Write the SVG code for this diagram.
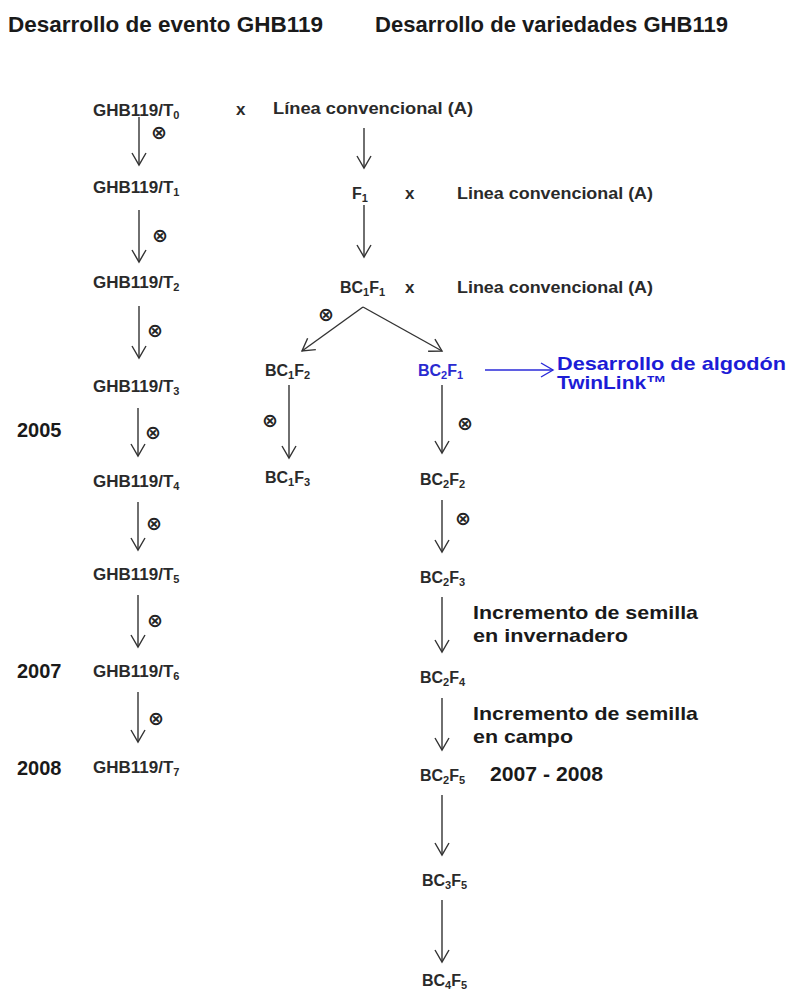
<svg xmlns="http://www.w3.org/2000/svg" width="787" height="993" viewBox="0 0 787 993">
<style>
text{font-family:"Liberation Sans",Arial,sans-serif;font-weight:bold;fill:#1a1a1a}
.h{font-size:22px}
.n{font-size:17px;fill:#2a2a2a}
.b{font-size:16px;fill:#2a2a2a}
.s{font-size:11px}
.t{font-size:19px}
.y{font-size:20px}
.blue{fill:#1c1cd6}
.nb{fill:#2a2ad0}
.sym{font-family:"DejaVu Sans",sans-serif;font-size:19px;font-weight:bold;text-anchor:middle;dominant-baseline:central;fill:#222}
.c{stroke:#333;stroke-width:1.4;fill:none;marker-end:url(#ah)}
.cb{stroke:#2a2ad8;stroke-width:1.4;fill:none;marker-end:url(#ahb)}
</style>
<defs>
<marker id="ah" markerWidth="16" markerHeight="16" refX="13" refY="8" orient="auto" markerUnits="userSpaceOnUse"><path d="M1,1 L13,8 L1,15" fill="none" stroke="#333" stroke-width="1.4"/></marker>
<marker id="ahb" markerWidth="16" markerHeight="16" refX="13" refY="8" orient="auto" markerUnits="userSpaceOnUse"><path d="M1,1 L13,8 L1,15" fill="none" stroke="#2a2ad8" stroke-width="1.4"/></marker>
</defs>
<rect width="787" height="993" fill="#fff"/>

<g id="headers">
<text class="h" x="8" y="32" textLength="315" lengthAdjust="spacingAndGlyphs">Desarrollo de evento GHB119</text>
<text class="h" x="375" y="32" textLength="353" lengthAdjust="spacingAndGlyphs">Desarrollo de variedades GHB119</text>
</g>

<g id="years">
<text class="y" x="17" y="437">2005</text>
<text class="y" x="17" y="678">2007</text>
<text class="y" x="17" y="775">2008</text>
</g>

<g id="T0"><text class="n" x="93" y="116">GHB119/T<tspan class="s" dy="3">0</tspan></text></g>
<g id="T1"><text class="n" x="93" y="193">GHB119/T<tspan class="s" dy="3">1</tspan></text></g>
<g id="T2"><text class="n" x="93" y="288">GHB119/T<tspan class="s" dy="3">2</tspan></text></g>
<g id="T3"><text class="n" x="93" y="392">GHB119/T<tspan class="s" dy="3">3</tspan></text></g>
<g id="T4"><text class="n" x="93" y="487">GHB119/T<tspan class="s" dy="3">4</tspan></text></g>
<g id="T5"><text class="n" x="93" y="580">GHB119/T<tspan class="s" dy="3">5</tspan></text></g>
<g id="T6"><text class="n" x="93" y="677">GHB119/T<tspan class="s" dy="3">6</tspan></text></g>
<g id="T7"><text class="n" x="93" y="773">GHB119/T<tspan class="s" dy="3">7</tspan></text></g>

<g id="cross1">
<text class="n" x="236" y="115">x</text>
<text class="n" x="273" y="114" textLength="200" lengthAdjust="spacingAndGlyphs">Línea convencional (A)</text>
</g>
<g id="F1"><text class="b" x="352" y="199">F<tspan class="s" dy="3">1</tspan></text></g>
<g id="cross2">
<text class="n" x="405" y="199">x</text>
<text class="n" x="457" y="199" textLength="196" lengthAdjust="spacingAndGlyphs">Linea convencional (A)</text>
</g>
<g id="BC1F1"><text class="b" x="340" y="293">BC<tspan class="s" dy="3">1</tspan><tspan dy="-3">F</tspan><tspan class="s" dy="3">1</tspan></text></g>
<g id="cross3">
<text class="n" x="405" y="293">x</text>
<text class="n" x="457" y="293" textLength="196" lengthAdjust="spacingAndGlyphs">Linea convencional (A)</text>
</g>

<g id="BC1F2"><text class="b" x="265" y="376">BC<tspan class="s" dy="3">1</tspan><tspan dy="-3">F</tspan><tspan class="s" dy="3">2</tspan></text></g>
<g id="BC1F3"><text class="b" x="265" y="483">BC<tspan class="s" dy="3">1</tspan><tspan dy="-3">F</tspan><tspan class="s" dy="3">3</tspan></text></g>
<g id="BC2F1"><text class="b nb" x="418" y="376">BC<tspan class="s" dy="3">2</tspan><tspan dy="-3">F</tspan><tspan class="s" dy="3">1</tspan></text></g>
<g id="BC2F2"><text class="b" x="420" y="485">BC<tspan class="s" dy="3">2</tspan><tspan dy="-3">F</tspan><tspan class="s" dy="3">2</tspan></text></g>
<g id="BC2F3"><text class="b" x="420" y="583">BC<tspan class="s" dy="3">2</tspan><tspan dy="-3">F</tspan><tspan class="s" dy="3">3</tspan></text></g>
<g id="BC2F4"><text class="b" x="420" y="683">BC<tspan class="s" dy="3">2</tspan><tspan dy="-3">F</tspan><tspan class="s" dy="3">4</tspan></text></g>
<g id="BC2F5"><text class="b" x="420" y="781">BC<tspan class="s" dy="3">2</tspan><tspan dy="-3">F</tspan><tspan class="s" dy="3">5</tspan></text></g>
<g id="BC3F5"><text class="b" x="422" y="886">BC<tspan class="s" dy="3">3</tspan><tspan dy="-3">F</tspan><tspan class="s" dy="3">5</tspan></text></g>
<g id="BC4F5"><text class="b" x="422" y="986">BC<tspan class="s" dy="3">4</tspan><tspan dy="-3">F</tspan><tspan class="s" dy="3">5</tspan></text></g>

<g id="twinlink">
<text class="t blue" x="557" y="370" textLength="229" lengthAdjust="spacingAndGlyphs">Desarrollo de algodón</text>
<text class="t blue" x="557" y="389" textLength="110" lengthAdjust="spacingAndGlyphs">TwinLink™</text>
</g>
<g id="notes">
<text class="t" x="473" y="619" textLength="225" lengthAdjust="spacingAndGlyphs">Incremento de semilla</text>
<text class="t" x="473" y="642" textLength="155" lengthAdjust="spacingAndGlyphs">en invernadero</text>
<text class="t" x="473" y="720" textLength="225" lengthAdjust="spacingAndGlyphs">Incremento de semilla</text>
<text class="t" x="473" y="743" textLength="100" lengthAdjust="spacingAndGlyphs">en campo</text>
<text class="y" x="490" y="781" textLength="113" lengthAdjust="spacingAndGlyphs">2007 - 2008</text>
</g>

<g id="connectors">
<line class="c" x1="139" y1="117" x2="139" y2="165"/>
<line class="c" x1="139" y1="210" x2="139" y2="262"/>
<line class="c" x1="139" y1="306" x2="139" y2="358"/>
<line class="c" x1="138" y1="408" x2="138" y2="456"/>
<line class="c" x1="138" y1="502" x2="138" y2="550"/>
<line class="c" x1="138" y1="595" x2="138" y2="647"/>
<line class="c" x1="138" y1="692" x2="138" y2="742"/>
<line class="c" x1="364" y1="128" x2="364" y2="168"/>
<line class="c" x1="364" y1="205" x2="364" y2="257"/>
<line class="c" x1="363" y1="307" x2="302" y2="351"/>
<line class="c" x1="363" y1="307" x2="442" y2="351"/>
<line class="c" x1="289" y1="385" x2="289" y2="458"/>
<line class="c" x1="442" y1="385" x2="442" y2="453"/>
<line class="c" x1="442" y1="500" x2="442" y2="552"/>
<line class="c" x1="442" y1="597" x2="442" y2="652"/>
<line class="c" x1="442" y1="698" x2="442" y2="750"/>
<line class="c" x1="442" y1="795" x2="442" y2="855"/>
<line class="c" x1="442" y1="900" x2="442" y2="962"/>
<line class="cb" x1="485" y1="370" x2="553" y2="370"/>
</g>

<g id="selfing">
<text class="sym" x="159" y="132">⊗</text>
<text class="sym" x="160" y="235">⊗</text>
<text class="sym" x="155" y="330">⊗</text>
<text class="sym" x="153" y="432">⊗</text>
<text class="sym" x="154" y="523">⊗</text>
<text class="sym" x="155" y="620">⊗</text>
<text class="sym" x="156" y="718">⊗</text>
<text class="sym" x="326" y="314">⊗</text>
<text class="sym" x="270" y="420">⊗</text>
<text class="sym" x="465" y="423">⊗</text>
<text class="sym" x="463" y="518">⊗</text>
</g>
</svg>
